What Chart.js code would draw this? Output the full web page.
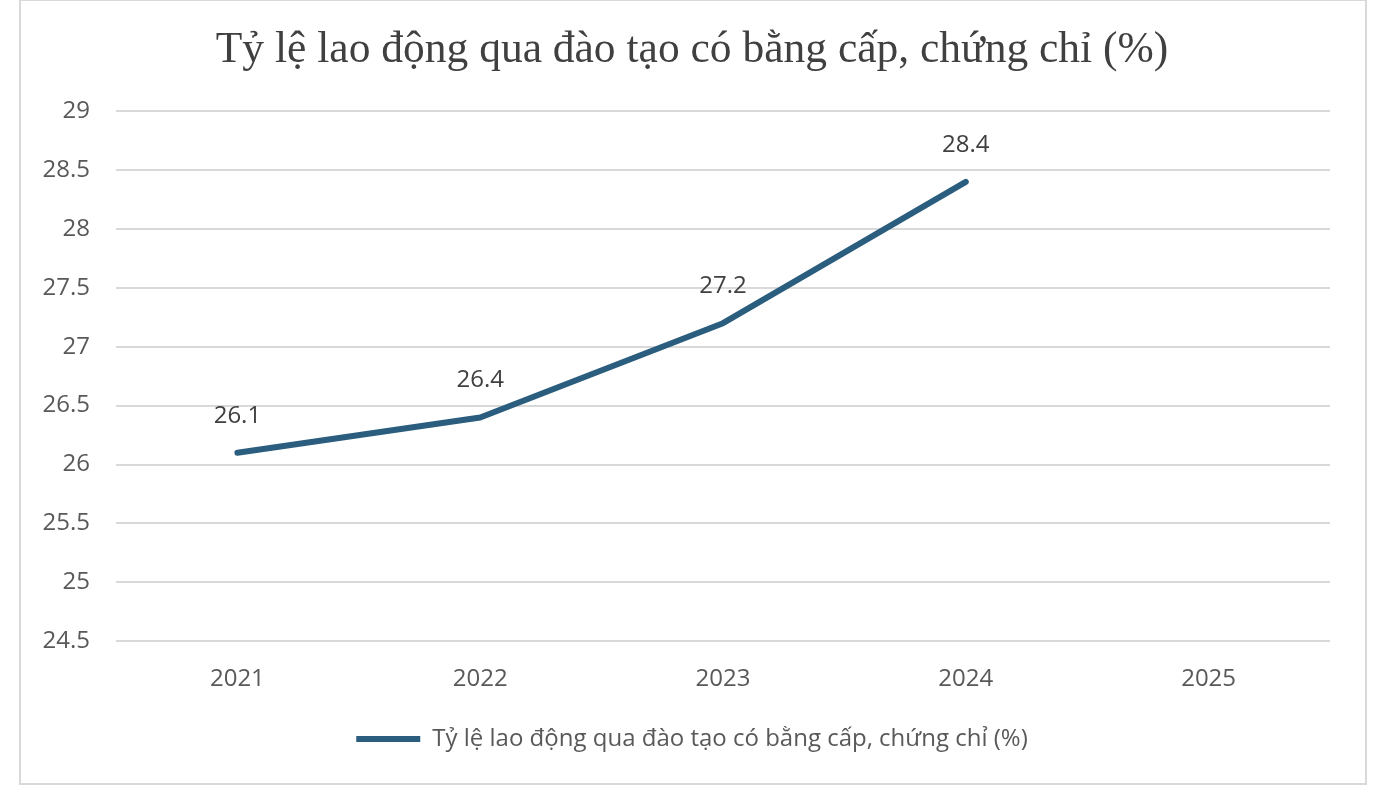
<!DOCTYPE html>
<html>
<head>
<meta charset="utf-8">
<script src="https://cdn.jsdelivr.net/npm/chart.js@4.4.1/dist/chart.umd.min.js"></script>
<style>
html,body{margin:0;padding:0;background:#fff;overflow:hidden;}
#frame{position:absolute;left:19px;top:-1px;width:1344px;height:782px;border:2px solid #d9d9d9;}
#wrap{position:absolute;left:0;top:0;width:1392px;height:786px;}
</style>
</head>
<body>
<div id="frame"></div>
<div id="wrap"><canvas id="c" width="1392" height="786"></canvas></div>
<script>
const categories = ['2021', '2022', '2023', '2024', '2025'];
const seriesValues = [26.1, 26.4, 27.2, 28.4, null];
const seriesName = 'Tỷ lệ lao động qua đào tạo có bằng cấp, chứng chỉ (%)';
const titleText = 'Tỷ lệ lao động qua đào tạo có bằng cấp, chứng chỉ (%)';
const yMin = 24.5, yMax = 29, yStep = 0.5;

const sansFont = "'Open Sans', 'Liberation Sans', sans-serif";

const dataLabels = {
  id: 'dataLabels',
  afterDatasetsDraw(chart) {
    const ctx = chart.ctx;
    const meta = chart.getDatasetMeta(0);
    ctx.save();
    ctx.font = "24px " + sansFont;
    ctx.fillStyle = '#404040';
    ctx.textAlign = 'center';
    ctx.textBaseline = 'middle';
    meta.data.forEach((pt, i) => {
      const v = chart.data.datasets[0].data[i];
      if (v === null || v === undefined) return;
      ctx.fillText(String(v), pt.x, pt.y - 37);
    });
    ctx.restore();
  }
};

new Chart(document.getElementById('c'), {
  type: 'line',
  data: {
    labels: categories,
    datasets: [{
      label: seriesName,
      data: seriesValues,
      borderColor: '#2A5D7E',
      backgroundColor: '#2A5D7E',
      borderWidth: 6,
      borderCapStyle: 'round',
      borderJoinStyle: 'round',
      pointRadius: 0,
      pointHoverRadius: 0,
      tension: 0,
      fill: false
    }]
  },
  options: {
    responsive: false,
    animation: false,
    devicePixelRatio: 1,
    layout: { padding: { left: 0, right: 8, top: 0, bottom: 25 } },
    plugins: {
      title: {
        display: true,
        text: titleText,
        color: '#404040',
        font: { family: "'Liberation Serif', 'Times New Roman', serif", size: 43.5, weight: 'normal' },
        padding: { top: 24, bottom: 35 }
      },
      legend: {
        display: true,
        position: 'bottom',
        labels: {
          usePointStyle: true,
          pointStyle: 'line',
          pointStyleWidth: 64,
          boxHeight: 24,
          color: '#595959',
          font: { family: sansFont, size: 24 },
          padding: 11
        }
      },
      tooltip: { enabled: false }
    },
    scales: {
      x: {
        offset: true,
        afterFit(scale) { scale.height = scale.height + 6; },
        grid: { display: false },
        border: { display: false },
        ticks: { color: '#595959', font: { family: sansFont, size: 24 }, padding: 16 }
      },
      y: {
        min: yMin,
        max: yMax,
        afterFit(scale) { scale.width = 116; },
        ticks: {
          stepSize: yStep,
          color: '#595959',
          font: { family: sansFont, size: 24 },
          padding: 26,
          callback: (v) => String(Math.round(v * 10) / 10)
        },
        grid: { color: '#d9d9d9', lineWidth: 2, drawTicks: false },
        border: { display: false }
      },
      yRight: {
        type: 'linear',
        position: 'right',
        axis: 'y',
        min: yMin,
        max: yMax,
        afterFit(scale) { scale.width = 54; },
        ticks: { display: false },
        grid: { display: false },
        border: { display: false }
      }
    }
  },
  plugins: [dataLabels]
});
</script>
</body>
</html>
